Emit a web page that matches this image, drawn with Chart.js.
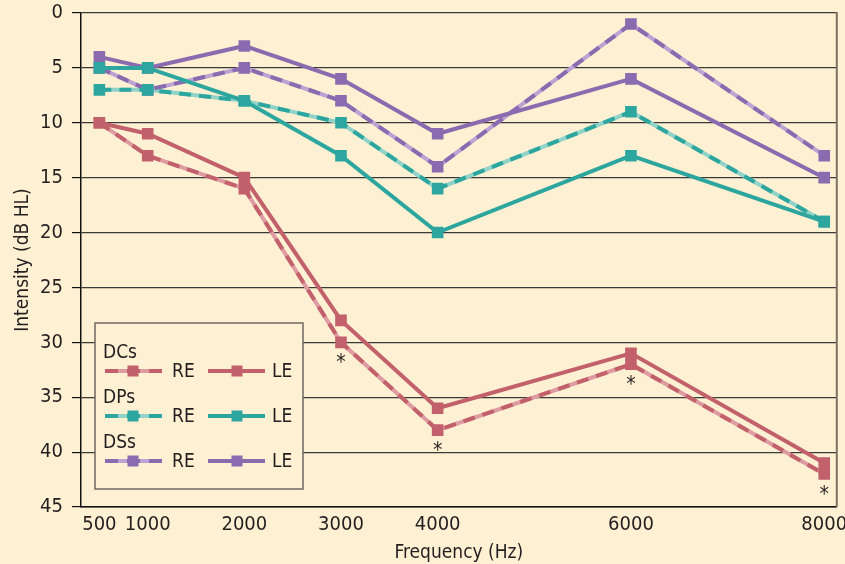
<!DOCTYPE html>
<html>
<head>
<meta charset="utf-8">
<script src="https://cdn.jsdelivr.net/npm/chart.js@4/dist/chart.umd.min.js"></script>
<style>
    html, body { margin: 0; padding: 0; background: #FEF0D2; }
    #wrap { width: 845px; height: 564px; }
</style>
</head>
<body>
<div id="wrap"><canvas id="audio" width="845" height="564"></canvas></div>
<script>
// --- DATI ---
const freqs = [500, 1000, 2000, 3000, 4000, 6000, 8000];
const xTicks = [500, 1000, 2000, 3000, 4000, 6000, 8000];
const groups = ['DCs', 'DPs', 'DSs'];
const dcsRE = [10, 13, 16, 30, 38, 32, 42];
const dcsLE = [10, 11, 15, 28, 36, 31, 41];
const dpsRE = [7, 7, 8, 10, 16, 9, 19];
const dpsLE = [5, 5, 8, 13, 20, 13, 19];
const dssRE = [5, 7, 5, 8, 14, 1, 13];
const dssLE = [4, 5, 3, 6, 11, 6, 15];
// frequenze con differenza significativa (asterisco sotto DCs RE)
const sigFreqs = [3000, 4000, 6000, 8000];

const BG = '#FEF0D2';
const TXT = '#231f20';
const FONT = "'DejaVu Sans Condensed', 'Liberation Sans', Arial, sans-serif";
const colors = {
    DCs: { dark: '#C2606B', light: '#DE9CA2' },
    DPs: { dark: '#2CA69E', light: '#92D3C9' },
    DSs: { dark: '#8B6BAF', light: '#BBA4D3' }
};

const pts = vals => vals.map((v, i) => ({ x: freqs[i], y: v }));

function lineSet(label, vals, color, dashed) {
    return {
        label, data: pts(vals), order: 1,
        borderColor: color, backgroundColor: color,
        borderWidth: 4, borderDash: dashed ? [12, 8] : [],
        pointStyle: 'rect', pointRadius: 8.2, pointBorderWidth: 0,
        pointBackgroundColor: color
    };
}
function underlay(label, vals, color) {
    return {
        label, data: pts(vals), order: 2,
        borderColor: color, borderWidth: 4, pointRadius: 0
    };
}

const series = { DCs: [dcsRE, dcsLE], DPs: [dpsRE, dpsLE], DSs: [dssRE, dssLE] };
const datasets = [];
groups.forEach(g => {
    const [re, le] = series[g];
    datasets.push(underlay(g + ' RE base', re, colors[g].light));
    datasets.push(lineSet(g + ' RE', re, colors[g].dark, true));
    datasets.push(lineSet(g + ' LE', le, colors[g].dark, false));
});

// bordo destro + legenda + asterischi
const extras = {
    id: 'extras',
    beforeDraw(chart) {
        const c = chart.ctx;
        c.save();
        c.fillStyle = BG;
        c.fillRect(0, 0, chart.width, chart.height);
        c.restore();
    },
    afterDatasetsDraw(chart) {
        const c = chart.ctx;
        const a = chart.chartArea;
        const xs = chart.scales.x, ys = chart.scales.y;
        c.save();
        // bordo destro
        c.strokeStyle = '#7d715f';
        c.lineWidth = 2;
        c.beginPath();
        c.moveTo(a.right, a.top - 1);
        c.lineTo(a.right, a.bottom);
        c.stroke();

        // asterischi
        c.fillStyle = TXT;
        c.font = '21px ' + FONT;
        c.textAlign = 'center';
        c.textBaseline = 'alphabetic';
        sigFreqs.forEach(f => {
            const v = dcsRE[freqs.indexOf(f)];
            c.fillText('*', xs.getPixelForValue(f), ys.getPixelForValue(v) + 27);
        });

        // legenda
        const L = 95, T = 323, W = 208, H = 166;
        c.fillStyle = BG;
        c.fillRect(L, T, W, H);
        c.strokeStyle = '#6f6a62';
        c.lineWidth = 1.5;
        c.strokeRect(L, T, W, H);
        c.font = '19px ' + FONT;
        c.textAlign = 'left';
        c.textBaseline = 'middle';
        groups.forEach((g, i) => {
            const gy = 353 + i * 45;
            const ly = gy + 18;
            c.fillStyle = TXT;
            c.fillText(g, 103, gy);
            // RE: base chiara + tratteggio scuro
            c.setLineDash([]);
            c.lineWidth = 4;
            c.strokeStyle = colors[g].light;
            c.beginPath(); c.moveTo(105, ly); c.lineTo(162, ly); c.stroke();
            c.setLineDash([13, 9]);
            c.strokeStyle = colors[g].dark;
            c.beginPath(); c.moveTo(105, ly); c.lineTo(162, ly); c.stroke();
            c.setLineDash([]);
            c.fillStyle = colors[g].dark;
            c.fillRect(133 - 5.5, ly - 5.5, 11, 11);
            // LE
            c.beginPath(); c.moveTo(208, ly); c.lineTo(265, ly); c.stroke();
            c.fillRect(237 - 5.5, ly - 5.5, 11, 11);
            c.fillStyle = TXT;
            c.fillText('RE', 172, ly + 1);
            c.fillText('LE', 272, ly + 1);
        });
        c.restore();
    }
};

new Chart(document.getElementById('audio'), {
    type: 'line',
    data: { datasets },
    plugins: [extras],
    options: {
        responsive: false,
        animation: false,
        events: [],
        layout: { padding: { top: 13, right: 6, left: 0, bottom: 0 } },
        elements: { line: { tension: 0 } },
        plugins: { legend: { display: false }, tooltip: { enabled: false } },
        scales: {
            x: {
                type: 'linear', min: 310, max: 8130,
                afterBuildTicks: s => { s.ticks = xTicks.map(v => ({ value: v })); },
                afterFit: s => { s.height = 57; s.paddingLeft = 0; s.paddingRight = 0; },
                grid: { display: false, drawTicks: false },
                border: { display: true, color: '#111', width: 1.5 },
                ticks: {
                    color: TXT, padding: 6, maxRotation: 0, autoSkip: false,
                    font: { family: FONT, size: 20 },
                    callback: v => String(v)
                },
                title: {
                    display: true, text: 'Frequency (Hz)', color: TXT,
                    font: { family: FONT, size: 19 }, padding: { top: 0, bottom: 0 }
                }
            },
            y: {
                type: 'linear', reverse: true, min: 0, max: 45,
                afterFit: s => { s.width = 81; s.paddingTop = 0; s.paddingBottom = 0; },
                grid: { color: '#3a3a3a', lineWidth: 1.2, tickLength: 9, tickColor: '#111' },
                border: { display: true, color: '#111', width: 1.5 },
                ticks: {
                    stepSize: 5, color: TXT, padding: 9,
                    font: { family: FONT, size: 20 },
                    callback: v => String(v)
                },
                title: {
                    display: true, text: 'Intensity (dB HL)', color: TXT,
                    font: { family: FONT, size: 19 }, padding: { top: 12, bottom: 0 }
                }
            }
        }
    }
});
</script>
</body>
</html>
